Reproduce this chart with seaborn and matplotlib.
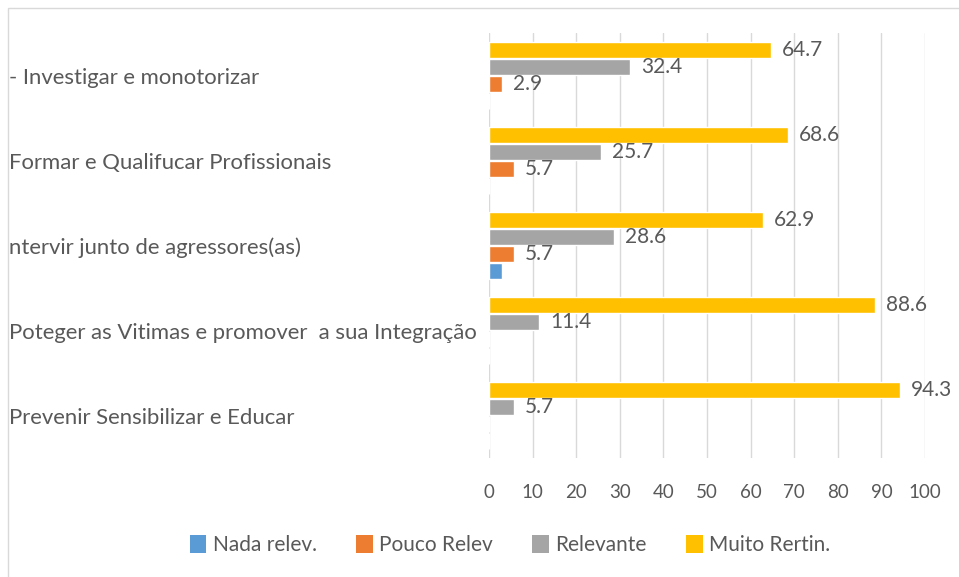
import matplotlib
matplotlib.use("Agg")
import matplotlib.pyplot as plt
import matplotlib.transforms as mtransforms
from matplotlib.patches import Rectangle, Patch
import seaborn as sns
import pandas as pd

categories = [
    "- Investigar e monotorizar",
    "Formar e Qualifucar Profissionais",
    "ntervir junto de agressores(as)",
    "Poteger as Vitimas e promover  a sua Integração",
    "Prevenir Sensibilizar e Educar",
]
series = ["Nada relev.", "Pouco Relev", "Relevante", "Muito Rertin."]
nada = [0, 0, 2.9, 0, 0]
pouco = [2.9, 5.7, 5.7, 0, 0]
relevante = [32.4, 25.7, 28.6, 11.4, 5.7]
muito = [64.7, 68.6, 62.9, 88.6, 94.3]
colors = {"Nada relev.": "#5B9BD5", "Pouco Relev": "#ED7D31",
          "Relevante": "#A5A5A5", "Muito Rertin.": "#FFC000"}
xticks = [0, 10, 20, 30, 40, 50, 60, 70, 80, 90, 100]

rows = []
for s, vals in zip(series, [nada, pouco, relevante, muito]):
    for c, v in zip(categories, vals):
        rows.append({"cat": c, "serie": s, "val": v})
df = pd.DataFrame(rows)

sns.set_theme(style="white")
plt.rcParams["font.family"] = ["Lato", "DejaVu Sans"]
txt = "#595959"

fig = plt.figure(figsize=(9.59, 5.77), dpi=100)
ax = fig.add_axes([489/959, 1-458/577, 436/959, 425/577])

hue_order = ["Muito Rertin.", "Relevante", "Pouco Relev", "Nada relev."]
sns.barplot(data=df, y="cat", x="val", hue="serie", hue_order=hue_order,
            order=categories, palette=colors, orient="h", width=0.8, gap=0.06,
            ax=ax, legend=False, saturation=1)

for cont, s in zip(ax.containers, hue_order):
    if s == "Nada relev.":
        continue
    vals = [r.get_width() for r in cont]
    labels = [f"{v:.1f}" if v > 0 else "" for v in vals]
    ax.bar_label(cont, labels=labels, padding=8, fontsize=15, color=txt)

ax.set_xlim(0, 100)
ax.set_ylim(4.5, -0.5)
ax.set_xticks(xticks)
ax.set_xticklabels([str(t) for t in xticks], fontsize=13.5, color=txt)
ax.tick_params(axis="x", length=0, pad=19)
ax.set_yticks([])
ax.set_xlabel("")
ax.set_ylabel("")
ax.grid(axis="x", color="#D9D9D9", linewidth=1)
ax.set_axisbelow(True)
for sp in ax.spines.values():
    sp.set_visible(False)

trans = mtransforms.blended_transform_factory(fig.transFigure, ax.transData)
for i, c in enumerate(categories):
    fig.text(9/959, i + 0.03, c, transform=trans, ha="left", va="center",
             fontsize=15.9, color=txt)

fig.patches.append(Rectangle((8/959, -0.1), 1.2, 1 - 8/577 + 0.1,
                             transform=fig.transFigure, fill=False,
                             edgecolor="#D9D9D9", linewidth=1))

handles = [Patch(facecolor=colors[s], edgecolor="none") for s in series]
fig.legend(handles, series, loc="center", ncol=4,
           bbox_to_anchor=(510/959, 1-545/577), frameon=False,
           fontsize=15, labelcolor=txt, handlelength=0.8, handleheight=0.95,
           handletextpad=0.3, columnspacing=1.9)

fig.savefig("out.png", dpi=100)
